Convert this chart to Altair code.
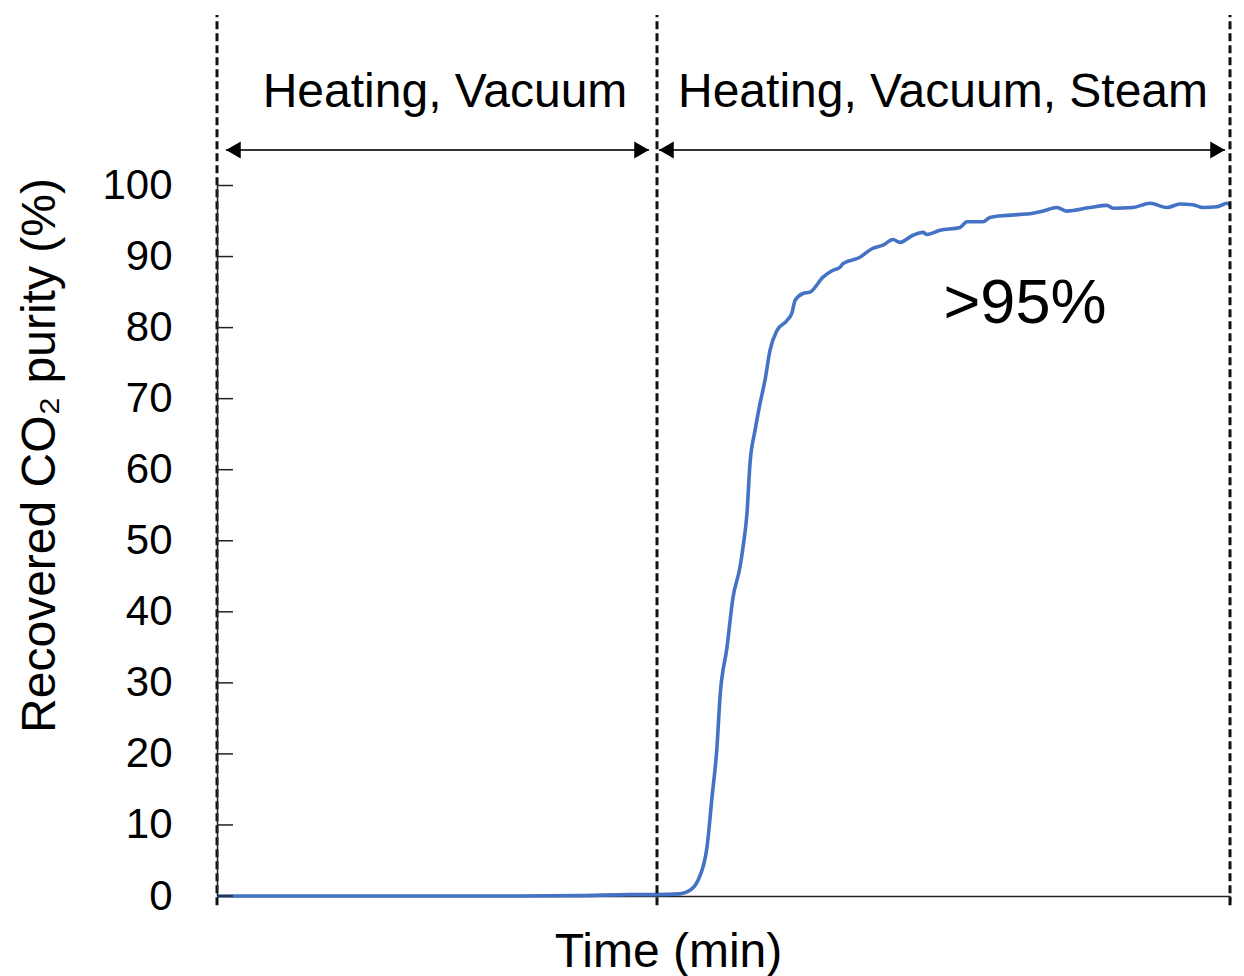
import altair as alt
import pandas as pd

# ---- data ----
time_min = [0, 20, 30, 36.3, 41.3, 44.0, 46.3, 47.3, 48.1, 49.0, 49.5, 50.0, 50.3, 51.0,
            51.6, 52.3, 52.6, 53.0, 53.3, 53.8, 54.3, 54.8, 55.3, 56.0, 57.0, 57.5, 57.8,
            58.6, 59.3, 60.6, 61.5, 62.3, 62.6, 64.3, 65.5, 66.6, 67.6, 68.3, 69.6, 70.6,
            71.0, 72.3, 74.3, 75.0, 76.6, 77.3, 79.0, 81.6, 82.6, 84.0, 85.0, 87.3, 89.0,
            89.6, 91.6, 93.3, 95.0, 96.3, 97.6, 98.6, 100.0, 101.0, 101.3]
purity = [0, 0, 0, 0.05, 0.2, 0.2, 0.3, 0.8, 2.2, 6.9, 13.9, 21, 28, 35,
          42, 46.3, 49.1, 53.9, 60.9, 65.5, 69.3, 72.6, 76.8, 79.6, 81, 82.1, 83.8,
          84.8, 85, 87.1, 88.0, 88.5, 89.0, 89.9, 91.1, 91.6, 92.4, 92.0, 93.0, 93.4,
          93.1, 93.7, 94.1, 94.9, 94.9, 95.5, 95.8, 96.1, 96.4, 96.9, 96.4, 96.9, 97.2,
          96.8, 96.9, 97.5, 96.9, 97.4, 97.3, 96.9, 97.0, 97.5, 97.3]

phase_bounds = [0, 44.0, 101.3]
phase_labels = ["Heating, Vacuum", "Heating, Vacuum, Steam"]
phase_label_x = [22.8, 72.6]
arrow_start = [0.9, 44.2]
arrow_end = [43.2, 100.8]
arrow_head_left = [1.64, 44.94]
arrow_head_right = [42.46, 100.06]
y_ticks = [0, 10, 20, 30, 40, 50, 60, 70, 80, 90, 100]

X_MAX = 101.3
Y_MAX = 124
ARROW_Y = 105.0
LABEL_Y = 111.0
FONT = "Liberation Sans"

curve = pd.DataFrame({"t": time_min, "p": purity})
bounds = pd.DataFrame({"t": phase_bounds, "y0": [-1.3] * 3, "y1": [Y_MAX] * 3})
arrows = pd.DataFrame({"x0": arrow_start, "x1": arrow_end, "y": [ARROW_Y] * 2})
heads_l = pd.DataFrame({"t": arrow_head_left, "y": [ARROW_Y] * 2})
heads_r = pd.DataFrame({"t": arrow_head_right, "y": [ARROW_Y] * 2})
labels = pd.DataFrame({"t": phase_label_x, "y": [LABEL_Y] * 2, "txt": phase_labels})
ticks = pd.DataFrame({"v": y_ticks})
note = pd.DataFrame({"t": [80.8], "y": [80.6], "txt": [">95%"]})

xs = alt.Scale(domain=[0, X_MAX], nice=False, zero=False)
ys = alt.Scale(domain=[0, Y_MAX], nice=False, zero=False)

x_axis = alt.Axis(values=[X_MAX], labels=False, ticks=True, tickSize=6, grid=False,
                  domainColor="#222", tickColor="#222", domainWidth=1.5, tickWidth=1.5,
                  title="Time (min)", titleFont=FONT, titleFontSize=48,
                  titleFontWeight="normal", titleColor="black",
                  titleX=451, titleY=70, titleBaseline="alphabetic", titleAlign="center")
y_axis = alt.Axis(values=y_ticks, domain=False, ticks=False, tickSize=0, grid=False,
                  labelFont=FONT, labelFontSize=42, labelColor="black", labelPadding=45,
                  title="Recovered CO₂ purity (%)", titleFont=FONT, titleFontSize=48,
                  titleFontWeight="normal", titleColor="black", titleAngle=270,
                  titleX=-163, titleY=440, titleBaseline="alphabetic", titleAlign="center")


def X(field):
    return alt.X(field, scale=xs)


def Y(field):
    return alt.Y(field, scale=ys)


line = alt.Chart(curve).mark_line(color="#4472C4", strokeWidth=3.6,
                                  interpolate="monotone").encode(
    x=alt.X("t:Q", scale=xs, axis=x_axis),
    y=alt.Y("p:Q", scale=ys, axis=y_axis),
)

yaxis_line = alt.Chart(pd.DataFrame({"a": [0], "b": [100]})).mark_rule(
    color="#222", strokeWidth=1.5).encode(
    x=alt.value(0.5), y=Y("a:Q"), y2="b:Q")

tick_marks = alt.Chart(ticks).mark_rule(color="#222", strokeWidth=1.5).encode(
    x=alt.value(0), x2=alt.value(16), y=Y("v:Q"))

dashes = alt.Chart(bounds).mark_rule(color="#111", strokeWidth=3, strokeDash=[8, 4]).encode(
    x=X("t:Q"), y=Y("y0:Q"), y2="y1:Q")

arrow_lines = alt.Chart(arrows).mark_rule(color="#333", strokeWidth=2).encode(
    x=X("x0:Q"), x2="x1:Q", y=Y("y:Q"))

left_heads = alt.Chart(heads_l).mark_point(shape="triangle-left", filled=True, size=289,
                                            color="black", opacity=1).encode(
    x=X("t:Q"), y=Y("y:Q"))
right_heads = alt.Chart(heads_r).mark_point(shape="triangle-right", filled=True, size=289,
                                             color="black", opacity=1).encode(
    x=X("t:Q"), y=Y("y:Q"))

phase_text = alt.Chart(labels).mark_text(font=FONT, fontSize=48, color="black",
                                         align="center", baseline="alphabetic").encode(
    x=X("t:Q"), y=Y("y:Q"), text="txt:N")

note_text = alt.Chart(note).mark_text(font=FONT, fontSize=63, color="black",
                                      align="center", baseline="alphabetic").encode(
    x=X("t:Q"), y=Y("y:Q"), text="txt:N")

chart = alt.layer(
    line, dashes, yaxis_line, tick_marks, arrow_lines, left_heads, right_heads,
    phase_text, note_text
).properties(
    width=1013, height=881,
    background="white",
    autosize=alt.AutoSizeParams(type="none"),
    padding={"left": 217, "top": 15, "right": 14, "bottom": 80},
).configure_view(strokeWidth=0, stroke="transparent")

chart.save("out.html", embed_options={"renderer": "svg", "actions": False})
